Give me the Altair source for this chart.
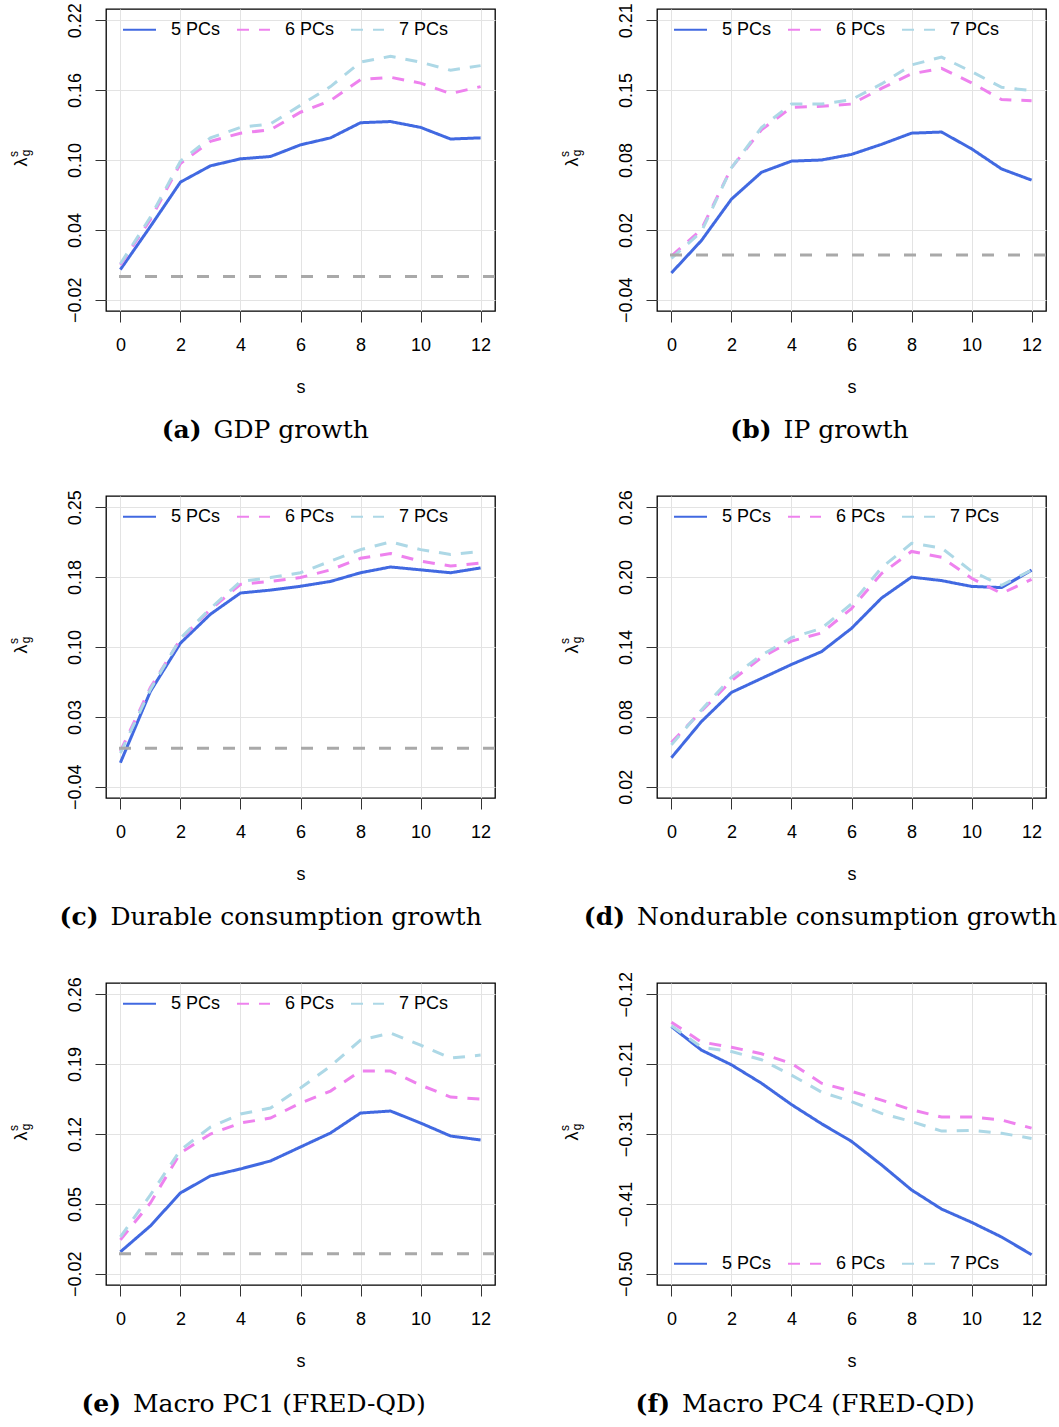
import altair as alt
import pandas as pd

# Horizon s on the x axis
s_values = list(range(13))

series_names = ["5 PCs", "6 PCs", "7 PCs"]
series_colors = ["#4169E1", "#EE82EE", "#ADD8E6"]
series_dashes = [[1, 0], [12, 10], [12, 10]]

# (a) GDP growth
gdp_5 = [0.006, 0.043, 0.081, 0.095, 0.101, 0.103, 0.113, 0.119, 0.132, 0.133, 0.128, 0.118, 0.119]
gdp_6 = [0.010, 0.049, 0.097, 0.116, 0.123, 0.126, 0.141, 0.151, 0.169, 0.171, 0.166, 0.157, 0.163]
gdp_7 = [0.011, 0.051, 0.099, 0.119, 0.128, 0.131, 0.147, 0.163, 0.184, 0.189, 0.184, 0.177, 0.181]

# (b) IP growth
ip_5 = [-0.016, 0.013, 0.050, 0.074, 0.084, 0.085, 0.090, 0.099, 0.109, 0.110, 0.095, 0.077, 0.067]
ip_6 = [-0.001, 0.023, 0.078, 0.112, 0.132, 0.133, 0.135, 0.149, 0.162, 0.167, 0.154, 0.139, 0.138]
ip_7 = [-0.003, 0.021, 0.078, 0.114, 0.135, 0.135, 0.139, 0.153, 0.170, 0.177, 0.164, 0.150, 0.147]

# (c) Durable consumption growth
dur_5 = [-0.015, 0.059, 0.109, 0.139, 0.161, 0.164, 0.168, 0.173, 0.182, 0.188, 0.185, 0.182, 0.187]
dur_6 = [-0.003, 0.063, 0.113, 0.144, 0.170, 0.173, 0.177, 0.185, 0.197, 0.202, 0.194, 0.189, 0.192]
dur_7 = [-0.005, 0.061, 0.114, 0.145, 0.173, 0.177, 0.182, 0.194, 0.206, 0.214, 0.206, 0.201, 0.204]

# (d) Nondurable consumption growth
nondur_5 = [0.045, 0.076, 0.101, 0.113, 0.125, 0.136, 0.156, 0.182, 0.200, 0.197, 0.192, 0.191, 0.206]
nondur_6 = [0.058, 0.085, 0.111, 0.131, 0.145, 0.152, 0.173, 0.203, 0.222, 0.217, 0.199, 0.186, 0.198]
nondur_7 = [0.056, 0.086, 0.114, 0.133, 0.148, 0.156, 0.177, 0.208, 0.229, 0.225, 0.205, 0.193, 0.206]

# (e) Macro PC1 (FRED-QD)
pc1_5 = [0.002, 0.028, 0.061, 0.078, 0.085, 0.093, 0.107, 0.121, 0.141, 0.143, 0.131, 0.118, 0.114]
pc1_6 = [0.014, 0.051, 0.101, 0.120, 0.131, 0.136, 0.151, 0.163, 0.183, 0.183, 0.169, 0.157, 0.155]
pc1_7 = [0.017, 0.059, 0.104, 0.127, 0.140, 0.146, 0.166, 0.188, 0.214, 0.221, 0.209, 0.196, 0.199]

# (f) Macro PC4 (FRED-QD)
pc4_5 = [-0.164, -0.196, -0.216, -0.241, -0.270, -0.296, -0.320, -0.352, -0.386, -0.412, -0.430, -0.450, -0.474]
pc4_6 = [-0.158, -0.185, -0.192, -0.201, -0.214, -0.241, -0.252, -0.264, -0.277, -0.287, -0.287, -0.291, -0.302]
pc4_7 = [-0.163, -0.192, -0.198, -0.209, -0.230, -0.253, -0.266, -0.282, -0.293, -0.306, -0.305, -0.309, -0.316]

# y-axis tick values and their printed labels, per panel
ticks_a = [-0.02, 0.04, 0.10, 0.16, 0.22]
labels_a = ["\u22120.02", "0.04", "0.10", "0.16", "0.22"]
ticks_b = [-0.04, 0.0225, 0.085, 0.1475, 0.21]
labels_b = ["\u22120.04", "0.02", "0.08", "0.15", "0.21"]
ticks_c = [-0.04, 0.0325, 0.105, 0.1775, 0.25]
labels_c = ["\u22120.04", "0.03", "0.10", "0.18", "0.25"]
ticks_d = [0.02, 0.08, 0.14, 0.20, 0.26]
labels_d = ["0.02", "0.08", "0.14", "0.20", "0.26"]
ticks_e = [-0.02, 0.05, 0.12, 0.19, 0.26]
labels_e = ["\u22120.02", "0.05", "0.12", "0.19", "0.26"]
ticks_f = [-0.50, -0.405, -0.31, -0.215, -0.12]
labels_f = ["\u22120.50", "\u22120.41", "\u22120.31", "\u22120.21", "\u22120.12"]

x_ticks = [0, 2, 4, 6, 8, 10, 12]
zero_level = [0.0]

W, H = 389, 302
SANS = "Liberation Sans"
SERIF = "DejaVu Serif"


def text_layer(txt, x, y, size, angle=0, weight="normal", font=SANS,
               align="center", baseline="middle"):
    return alt.Chart(pd.DataFrame({"t": [txt]})).mark_text(
        angle=angle, fontSize=size, font=font, fontWeight=weight,
        align=align, baseline=baseline, color="#000",
    ).encode(text="t:N", x=alt.value(x), y=alt.value(y))


def panel(tag, caption, split, lines, yticks, ylabels, zero_line, legend_bottom):
    df = pd.DataFrame({
        "s": s_values * 3,
        "value": lines[0] + lines[1] + lines[2],
        "series": [n for n in series_names for _ in s_values],
    })
    lo, hi = yticks[0], yticks[-1]
    ext = 0.04 * (hi - lo)
    label_expr = " : ".join(
        f"datum.value == {v} ? '{l}'" for v, l in zip(yticks, ylabels)
    ) + " : ''"

    legend = alt.Legend(
        orient="none", legendX=16, legendY=(263 if legend_bottom else 3),
        direction="horizontal", title=None, symbolType="stroke",
        symbolSize=1089, symbolStrokeWidth=2, labelFont=SANS,
        labelFontSize=18, labelColor="#000", labelOffset=14,
        columnPadding=12, padding=0,
    )
    x_enc = alt.X(
        "s:Q",
        scale=alt.Scale(domain=[-0.48, 12.48], nice=False, zero=False),
        axis=alt.Axis(values=x_ticks, title="s", labelPadding=14,
                      titlePadding=24, labelFlush=False),
    )
    y_enc = alt.Y(
        "value:Q",
        scale=alt.Scale(domain=[lo - ext, hi + ext], nice=False, zero=False),
        axis=alt.Axis(values=yticks, labelExpr=label_expr, title=None,
                      labelAngle=270, labelAlign="center",
                      labelBaseline="bottom", labelPadding=11,
                      labelFlush=False, labelOverlap=False),
    )
    lines_chart = alt.Chart(df).mark_line(strokeWidth=3).encode(
        x=x_enc, y=y_enc,
        color=alt.Color("series:N", sort=series_names,
                        scale=alt.Scale(domain=series_names, range=series_colors),
                        legend=legend),
        strokeDash=alt.StrokeDash("series:N", sort=series_names,
                                  scale=alt.Scale(domain=series_names, range=series_dashes),
                                  legend=legend),
    )
    layers = [lines_chart]
    if zero_line:
        layers.append(
            alt.Chart(pd.DataFrame({"z": zero_level})).mark_rule(
                color="#A9A9A9", strokeWidth=3, strokeDash=[12, 14]
            ).encode(y="z:Q")
        )
    # y-axis title: lambda with superscript s and subscript g
    layers += [
        text_layer("\u03bb", -84, H / 2 + 2, 18, angle=270),
        text_layer("s", -92, H / 2 - 6, 12, angle=270),
        text_layer("g", -80, H / 2 - 7, 12, angle=270),
        # caption below the panel
        text_layer(tag, split - 6, 429, 25, weight="bold", font=SERIF,
                   align="right", baseline="alphabetic"),
        text_layer(caption, split + 6, 429, 25, font=SERIF,
                   align="left", baseline="alphabetic"),
    ]
    return alt.layer(*layers).properties(width=W, height=H)


pa = panel("(a)", "GDP growth", 101.5, [gdp_5, gdp_6, gdp_7], ticks_a, labels_a, True, False)
pb = panel("(b)", "IP growth", 120.5, [ip_5, ip_6, ip_7], ticks_b, labels_b, True, False)
pc = panel("(c)", "Durable consumption growth", -1.5, [dur_5, dur_6, dur_7], ticks_c, labels_c, True, False)
pd_ = panel("(d)", "Nondurable consumption growth", -26, [nondur_5, nondur_6, nondur_7], ticks_d, labels_d, False, False)
pe = panel("(e)", "Macro PC1 (FRED-QD)", 21, [pc1_5, pc1_6, pc1_7], ticks_e, labels_e, True, False)
pf = panel("(f)", "Macro PC4 (FRED-QD)", 19, [pc4_5, pc4_6, pc4_7], ticks_f, labels_f, False, True)

chart = alt.concat(
    pa, pb, pc, pd_, pe, pf,
    columns=2, bounds="flush",
    spacing=alt.RowColnumber(row=185, column=162),
).resolve_scale(
    color="independent", strokeDash="independent"
).properties(
    padding={"left": 7, "top": 2, "right": 0, "bottom": 1},
).configure_view(
    stroke="#000", strokeWidth=1.3
).configure_axis(
    grid=True, gridColor="#e3e3e3", gridWidth=1, domain=False,
    tickColor="#333", tickSize=11, tickWidth=1,
    labelFont=SANS, labelFontSize=18, labelColor="#000",
    titleFont=SANS, titleFontSize=18, titleFontWeight="normal", titleColor="#000",
)

chart.save("out.html", embed_options={"renderer": "svg", "actions": False})
